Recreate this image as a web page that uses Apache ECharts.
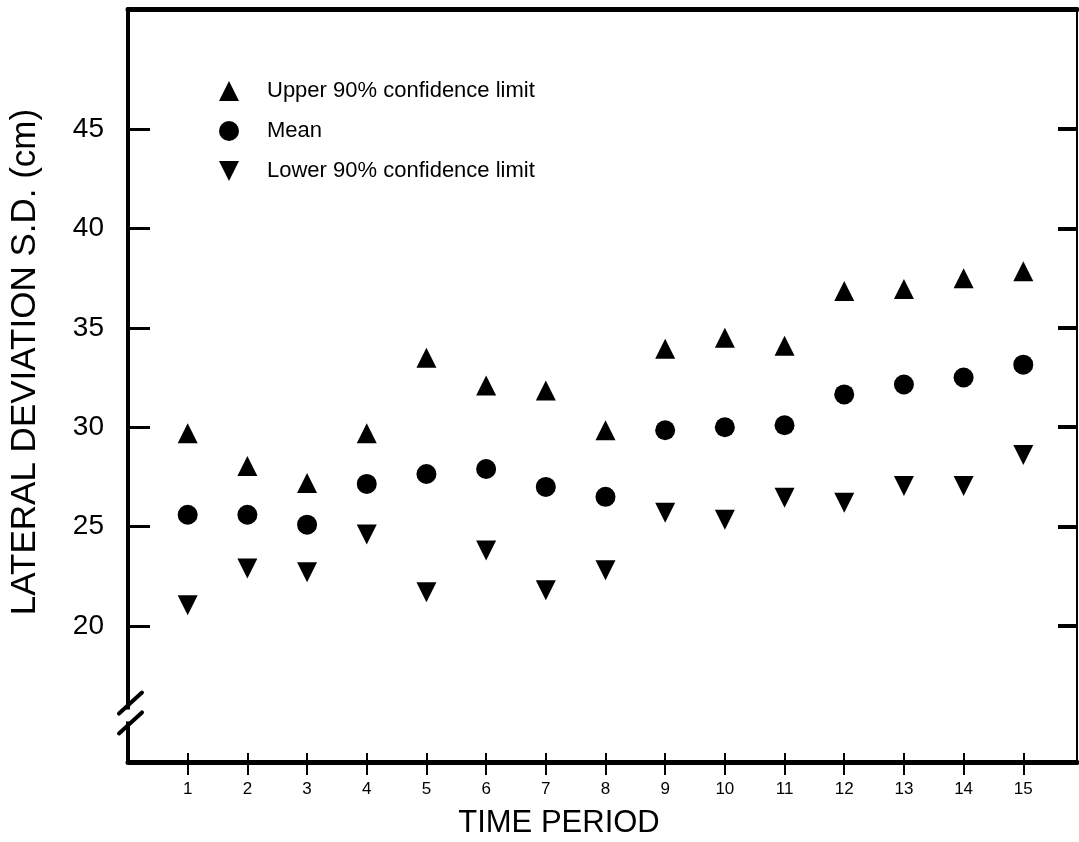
<!DOCTYPE html>
<html>
<head>
<meta charset="utf-8">
<script src="https://cdn.jsdelivr.net/npm/echarts@6/dist/echarts.min.js"></script>
<style>
  html, body { margin: 0; padding: 0; background: #fff; }
  #chart { width: 1079px; height: 842px; }
</style>
</head>
<body>
<div id="chart"></div>
<script>
// time periods 1..15
var periods = [1, 2, 3, 4, 5, 6, 7, 8, 9, 10, 11, 12, 13, 14, 15];
var upperLimit = [29.7, 28.05, 27.2, 29.7, 33.5, 32.1, 31.85, 29.85, 33.95, 34.5, 34.1, 36.85, 36.95, 37.5, 37.85];
var meanValue = [25.6, 25.6, 25.1, 27.15, 27.65, 27.9, 27.0, 26.5, 29.85, 30.0, 30.1, 31.65, 32.15, 32.5, 33.15];
var lowerLimit = [21.05, 22.9, 22.7, 24.6, 21.7, 23.8, 21.8, 22.8, 25.7, 25.35, 26.45, 26.2, 27.05, 27.05, 28.6];
var yTicks = [20, 25, 30, 35, 40, 45];
var seriesNames = ["Upper 90% confidence limit", "Mean", "Lower 90% confidence limit"];

var FONT = "Liberation Sans";
var chart = echarts.init(document.getElementById("chart"));

function pairs(vals) {
  var out = [];
  for (var i = 0; i < periods.length; i++) {
    out.push([periods[i], vals[i]]);
  }
  return out;
}

var grid = { left: 128, right: 2, top: 9, bottom: 80 };
var gridWidth = 1079 - grid.left - grid.right;

var option = {
  backgroundColor: "#fff",
  animation: false,
  grid: [grid, grid],
  legend: {
    orient: "vertical",
    left: 214,
    top: 75,
    itemWidth: 20,
    itemHeight: 20,
    itemGap: 18,
    data: seriesNames,
    textStyle: {
      fontFamily: FONT,
      fontSize: 22,
      color: "#000",
      padding: [0, 0, 0, 23]
    }
  },
  xAxis: [
    {
      type: "value",
      gridIndex: 0,
      position: "bottom",
      min: 0,
      max: 15.9,
      splitLine: { show: false },
      axisLine: { show: true, onZero: false, lineStyle: { color: "#000", width: 5 } },
      axisTick: {
        show: true,
        inside: false,
        length: 13,
        customValues: periods,
        lineStyle: { color: "#000", width: 2 }
      },
      axisLabel: {
        customValues: periods,
        margin: 19,
        fontFamily: FONT,
        fontSize: 17,
        color: "#000"
      }
    },
    {
      // top border of the frame
      type: "value",
      gridIndex: 0,
      position: "top",
      min: 0,
      max: 15.9,
      splitLine: { show: false },
      axisLine: { show: true, onZero: false, lineStyle: { color: "#000", width: 5 } },
      axisTick: { show: false },
      axisLabel: { show: false }
    },
    {
      // upper half of the crossing ticks on the time axis
      type: "value",
      gridIndex: 1,
      position: "bottom",
      min: 0,
      max: 15.9,
      splitLine: { show: false },
      axisLine: { show: false, onZero: false },
      axisTick: {
        show: true,
        inside: true,
        length: 9,
        customValues: periods,
        lineStyle: { color: "#000", width: 2 }
      },
      axisLabel: { show: false }
    }
  ],
  yAxis: [
    {
      type: "value",
      gridIndex: 0,
      position: "left",
      min: 13.16,
      max: 51.04,
      splitLine: { show: false },
      axisLine: { show: true, onZero: false, lineStyle: { color: "#000", width: 4 } },
      axisTick: { show: false },
      axisLabel: {
        customValues: yTicks,
        margin: 24,
        fontFamily: FONT,
        fontSize: 28,
        color: "#000"
      }
    },
    {
      type: "value",
      gridIndex: 0,
      position: "right",
      min: 13.16,
      max: 51.04,
      splitLine: { show: false },
      axisLine: { show: true, onZero: false, lineStyle: { color: "#000", width: 2 } },
      axisTick: {
        show: true,
        inside: true,
        length: 19,
        customValues: yTicks,
        lineStyle: { color: "#000", width: 4 }
      },
      axisLabel: { show: false }
    },
    {
      // ticks on the left side of the frame, pointing into the plot
      // (a right-side axis shifted over to the left edge)
      type: "value",
      gridIndex: 1,
      position: "right",
      offset: -gridWidth,
      min: 13.16,
      max: 51.04,
      splitLine: { show: false },
      axisLine: { show: false, onZero: false },
      axisTick: {
        show: true,
        inside: false,
        length: 22,
        customValues: yTicks,
        lineStyle: { color: "#000", width: 3 }
      },
      axisLabel: { show: false }
    }
  ],
  series: [
    {
      name: seriesNames[0],
      type: "scatter",
      xAxisIndex: 0,
      yAxisIndex: 0,
      symbol: "triangle",
      symbolSize: 20,
      itemStyle: { color: "#000", opacity: 1 },
      data: pairs(upperLimit)
    },
    {
      name: seriesNames[1],
      type: "scatter",
      xAxisIndex: 0,
      yAxisIndex: 0,
      symbol: "circle",
      symbolSize: 20,
      itemStyle: { color: "#000", opacity: 1 },
      data: pairs(meanValue)
    },
    {
      name: seriesNames[2],
      type: "scatter",
      xAxisIndex: 0,
      yAxisIndex: 0,
      symbol: "path://M0,0L20,0L10,20Z",
      symbolSize: 20,
      itemStyle: { color: "#000", opacity: 1 },
      data: pairs(lowerLimit)
    }
  ]
};

chart.setOption(option);

// axis titles and the break marks on the value axis
var axisX = chart.convertToPixel({ xAxisIndex: 0 }, 0);
var breakY1 = chart.convertToPixel({ yAxisIndex: 0 }, 16.0);
var breakY2 = chart.convertToPixel({ yAxisIndex: 0 }, 15.0);

chart.setOption({
  graphic: [
    {
      type: "text",
      x: 25,
      y: 362,
      rotation: Math.PI / 2,
      style: {
        text: "LATERAL DEVIATION S.D. (cm)",
        fontFamily: FONT,
        fontSize: 35,
        fill: "#000",
        align: "center",
        verticalAlign: "middle"
      }
    },
    {
      type: "text",
      x: 559,
      y: 823,
      style: {
        text: "TIME PERIOD",
        fontFamily: FONT,
        fontSize: 31,
        fill: "#000",
        align: "center",
        verticalAlign: "middle"
      }
    },
    {
      type: "rect",
      shape: { x: axisX - 4, y: breakY1 + 4, width: 8, height: breakY2 - breakY1 - 8 },
      style: { fill: "#fff" },
      z: 100
    },
    {
      type: "line",
      shape: { x1: axisX - 9, y1: breakY1 + 8, x2: axisX + 14, y2: breakY1 - 13 },
      style: { stroke: "#000", lineWidth: 4, lineCap: "round" },
      z: 101
    },
    {
      type: "line",
      shape: { x1: axisX - 9, y1: breakY2 + 8, x2: axisX + 14, y2: breakY2 - 13 },
      style: { stroke: "#000", lineWidth: 4, lineCap: "round" },
      z: 101
    }
  ]
});

window.addEventListener("resize", function () {
  chart.resize();
});
</script>
</body>
</html>
